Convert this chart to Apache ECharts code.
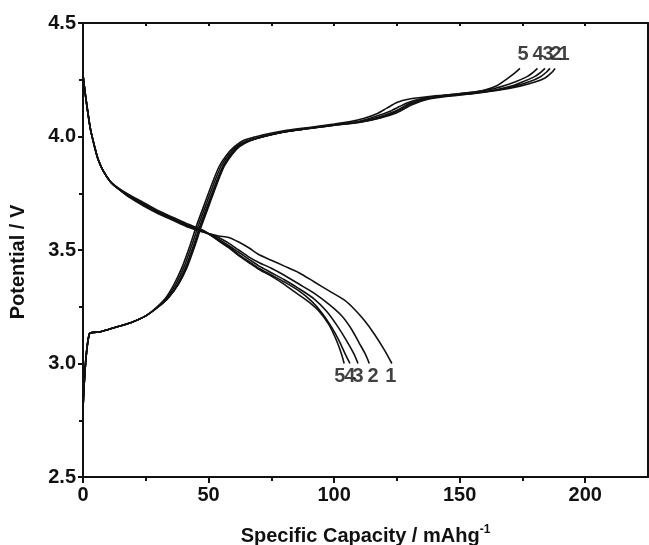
<!DOCTYPE html>
<html><head><meta charset="utf-8">
<script src="https://cdn.jsdelivr.net/npm/echarts@6/dist/echarts.min.js"></script>
<style>html,body{margin:0;padding:0;background:#fff}#c{width:649px;height:545px}</style>
</head><body><div id="c"></div>
<script>
// ---- data ----
const xTickLabels = [0, 50, 100, 150, 200];
const xMinorTicks = [25, 75, 125, 175];
const yTickLabels = [2.5, 3.0, 3.5, 4.0, 4.5];

// charge curves (capacity, potential)
const charge1X = [0, 2.5, 7, 13, 19, 25, 30, 34, 38, 41.3, 44.3, 47.3, 50.3, 53.3, 56.3, 59.3, 62.3, 66.3, 72, 80, 90, 100, 110, 118, 125, 131, 137, 146, 156, 166, 174, 180, 184, 186.5, 188];
const charge1Y = [2.80, 3.13, 3.14, 3.16, 3.18, 3.21, 3.25, 3.29, 3.35, 3.42, 3.51, 3.61, 3.70, 3.79, 3.87, 3.92, 3.955, 3.98, 4.00, 4.02, 4.035, 4.05, 4.062, 4.08, 4.105, 4.14, 4.163, 4.178, 4.19, 4.205, 4.222, 4.24, 4.258, 4.28, 4.30];
const charge2X = [0, 2.5, 7, 13, 19, 25, 30, 34, 38, 41, 44, 47, 50, 53, 56, 59, 62, 66, 72, 80, 90, 100, 110, 118, 124.5, 130.5, 136.5, 145, 155, 165, 172, 178, 182, 184.5, 186];
const charge2Y = [2.80, 3.13, 3.14, 3.16, 3.18, 3.21, 3.25, 3.29, 3.35, 3.42, 3.51, 3.61, 3.70, 3.79, 3.87, 3.92, 3.955, 3.98, 4.00, 4.02, 4.035, 4.05, 4.063, 4.082, 4.108, 4.143, 4.165, 4.18, 4.19, 4.205, 4.222, 4.242, 4.262, 4.283, 4.30];
const charge3X = [0, 2.5, 7, 13, 19, 25, 30, 34, 37.7, 40.7, 43.7, 46.7, 49.7, 52.7, 55.7, 58.7, 61.7, 65.7, 72, 80, 90, 100, 110, 117.5, 124, 130, 136, 144, 154, 164, 171, 176, 180, 182.5, 184];
const charge3Y = [2.80, 3.13, 3.14, 3.16, 3.18, 3.21, 3.25, 3.29, 3.35, 3.42, 3.51, 3.61, 3.70, 3.79, 3.87, 3.92, 3.955, 3.98, 4.00, 4.02, 4.035, 4.05, 4.065, 4.085, 4.11, 4.145, 4.166, 4.18, 4.19, 4.205, 4.223, 4.245, 4.265, 4.285, 4.30];
const charge4X = [0, 2.5, 7, 13, 19, 25, 30, 33.5, 37, 40, 43, 46, 49, 52, 55, 58, 61, 65, 71.5, 80, 90, 100, 110, 117, 123, 129, 135, 143, 153, 162, 168, 173, 177, 179.5, 181];
const charge4Y = [2.80, 3.13, 3.14, 3.16, 3.18, 3.21, 3.25, 3.29, 3.35, 3.42, 3.51, 3.61, 3.70, 3.79, 3.87, 3.92, 3.955, 3.98, 4.00, 4.02, 4.037, 4.052, 4.067, 4.09, 4.115, 4.148, 4.167, 4.18, 4.192, 4.207, 4.225, 4.245, 4.265, 4.285, 4.30];
const charge5X = [0, 2.5, 7, 13, 19, 25, 29.5, 33, 36.3, 39.3, 42.3, 45.3, 48.3, 51.3, 54.3, 57.3, 60.3, 64.3, 71, 80, 90, 100, 106, 112, 117, 121, 125, 130, 137, 145, 153, 160, 165, 169, 172, 174];
const charge5Y = [2.80, 3.13, 3.14, 3.16, 3.18, 3.21, 3.25, 3.29, 3.35, 3.42, 3.51, 3.61, 3.70, 3.79, 3.87, 3.92, 3.955, 3.985, 4.005, 4.025, 4.04, 4.055, 4.065, 4.08, 4.10, 4.125, 4.15, 4.165, 4.175, 4.183, 4.192, 4.205, 4.225, 4.255, 4.28, 4.30];

// discharge curves (capacity, potential)
const discharge1X = [0, 1, 2, 3, 4.5, 6, 8, 11, 14, 18, 24, 30, 36, 42, 48, 54, 58, 62, 66, 70, 75, 80, 86, 92, 98, 104, 108, 112, 116, 120, 123];
const discharge1Y = [4.27, 4.18, 4.10, 4.03, 3.96, 3.90, 3.85, 3.80, 3.77, 3.735, 3.695, 3.66, 3.63, 3.60, 3.578, 3.562, 3.555, 3.535, 3.51, 3.48, 3.455, 3.43, 3.40, 3.36, 3.32, 3.28, 3.24, 3.19, 3.13, 3.06, 3.00];
const discharge2X = [0, 1, 2, 3, 4.5, 6, 8, 11, 14, 18, 24, 30, 36, 42, 48, 54, 58, 62, 66, 70, 75, 80, 86, 92, 98, 103, 107, 110, 112.5, 114];
const discharge2Y = [4.27, 4.18, 4.10, 4.03, 3.96, 3.90, 3.85, 3.80, 3.77, 3.738, 3.70, 3.663, 3.633, 3.603, 3.58, 3.555, 3.53, 3.50, 3.47, 3.445, 3.42, 3.39, 3.35, 3.31, 3.26, 3.21, 3.15, 3.09, 3.04, 3.00];
const discharge3X = [0, 1, 2, 3, 4.5, 6, 8, 11, 14, 18, 24, 30, 36, 42, 48, 54, 58, 62, 66, 70, 75, 80, 86, 92, 97, 101, 105, 108, 109.5];
const discharge3Y = [4.27, 4.18, 4.10, 4.03, 3.96, 3.90, 3.85, 3.80, 3.77, 3.74, 3.703, 3.667, 3.637, 3.607, 3.582, 3.548, 3.52, 3.49, 3.46, 3.43, 3.40, 3.37, 3.33, 3.285, 3.23, 3.17, 3.10, 3.04, 3.00];
const discharge4X = [0, 1, 2, 3, 4.5, 6, 8, 11, 14, 18, 24, 30, 36, 42, 48, 54, 58, 62, 66, 70, 75, 80, 86, 91, 95, 99, 102, 104.5, 106.3];
const discharge4Y = [4.27, 4.18, 4.10, 4.03, 3.96, 3.90, 3.85, 3.80, 3.772, 3.743, 3.706, 3.67, 3.64, 3.61, 3.584, 3.543, 3.515, 3.48, 3.45, 3.42, 3.39, 3.36, 3.32, 3.275, 3.225, 3.16, 3.10, 3.04, 3.00];
const discharge5X = [0, 1, 2, 3, 4.5, 6, 8, 11, 14, 18, 24, 30, 36, 42, 48, 54, 58, 62, 66, 70, 75, 80, 85, 90, 94, 98, 101, 103, 104];
const discharge5Y = [4.27, 4.18, 4.10, 4.03, 3.96, 3.90, 3.85, 3.80, 3.774, 3.746, 3.71, 3.673, 3.643, 3.613, 3.586, 3.54, 3.51, 3.475, 3.445, 3.415, 3.385, 3.35, 3.31, 3.27, 3.23, 3.17, 3.10, 3.04, 3.00];

// cycle number labels (capacity, potential, text)
const topLabelX = [191.6, 188.4, 185.2, 181.2, 175.2];
const topLabelY = [4.36, 4.36, 4.36, 4.36, 4.36];
const bottomLabelX = [122.6, 115.5, 109.5, 106.3, 102.3];
const bottomLabelY = [2.945, 2.945, 2.945, 2.945, 2.945];
const cycleNames = ['1', '2', '3', '4', '5'];

// ---- build ----
const zip = (xs, ys) => xs.map((x, i) => [x, ys[i]]);
const chargeSets = [[charge1X, charge1Y], [charge2X, charge2Y], [charge3X, charge3Y], [charge4X, charge4Y], [charge5X, charge5Y]];
const dischargeSets = [[discharge1X, discharge1Y], [discharge2X, discharge2Y], [discharge3X, discharge3Y], [discharge4X, discharge4Y], [discharge5X, discharge5Y]];

const INK = '#111111';
const FONT = 'Liberation Sans, Arial, sans-serif';
const lineStyle = { color: INK, width: 1.6 };

const series = [];
chargeSets.forEach((s, i) => series.push({
  name: 'charge ' + cycleNames[i], type: 'line', data: zip(s[0], s[1]),
  showSymbol: false, symbol: 'none', smooth: 0.25, lineStyle, silent: true, z: 3
}));
dischargeSets.forEach((s, i) => series.push({
  name: 'discharge ' + cycleNames[i], type: 'line', data: zip(s[0], s[1]),
  showSymbol: false, symbol: 'none', smooth: 0.25, lineStyle, silent: true, z: 3
}));
const labelStyle = { show: true, position: 'inside', formatter: p => p.data[2], color: INK,
  fontFamily: FONT, fontWeight: 'bold', fontSize: 20 };
series.push({
  type: 'scatter', symbolSize: 0, silent: true, z: 5,
  data: topLabelX.map((x, i) => [x, topLabelY[i], cycleNames[i]]), label: labelStyle
});
series.push({
  type: 'scatter', symbolSize: 0, silent: true, z: 5,
  data: bottomLabelX.map((x, i) => [x, bottomLabelY[i], cycleNames[i]]), label: labelStyle
});

const axisLine = { show: true, onZero: false, lineStyle: { color: INK, width: 2 } };
const tickLabel = { color: INK, fontFamily: FONT, fontWeight: 'bold', fontSize: 20 };

const option = {
  animation: false,
  backgroundColor: '#fff',
  grid: { left: 83, right: 1, top: 23, bottom: 68, containLabel: false, outerBoundsMode: 'none' },
  graphic: [{
    type: 'text', x: 18, y: 262, rotation: Math.PI / 2,
    style: { text: 'Potential / V', fill: INK, font: 'bold 20px ' + FONT, align: 'center', verticalAlign: 'middle' }
  }],
  xAxis: [
    {
      type: 'value', min: 0, max: 225, interval: 50, position: 'bottom',
      axisLine, splitLine: { show: false },
      axisTick: { show: true, inside: false, length: 6, customValues: xTickLabels, lineStyle: { color: INK, width: 2 } },
      axisLabel: { ...tickLabel, margin: 8, customValues: xTickLabels, formatter: v => String(v) },
      name: '{a|Specific Capacity / mAhg}{b|-1}', nameLocation: 'middle', nameGap: 47,
      nameTextStyle: { rich: {
        a: { fontFamily: FONT, fontWeight: 'bold', fontSize: 20, color: INK },
        b: { fontFamily: FONT, fontWeight: 'bold', fontSize: 12, color: INK, padding: [0, 0, 13, 0] }
      } }
    },
    {
      type: 'value', min: 0, max: 225, position: 'bottom', gridIndex: 0,
      axisLine: { show: false }, splitLine: { show: false }, axisLabel: { show: false },
      axisTick: { show: true, inside: false, length: 4, customValues: xMinorTicks, lineStyle: { color: INK, width: 2 } }
    },
    {
      type: 'value', min: 0, max: 225, position: 'top', gridIndex: 0,
      axisLine, splitLine: { show: false }, axisLabel: { show: false },
      axisTick: { show: true, inside: true, length: 3, customValues: [25, 50, 75, 100, 125, 150, 175, 200], lineStyle: { color: INK, width: 2 } }
    }
  ],
  yAxis: [
    {
      type: 'value', min: 2.5, max: 4.5, interval: 0.5, position: 'left',
      axisLine, splitLine: { show: false },
      axisTick: { show: true, inside: false, length: 5, lineStyle: { color: INK, width: 2 } },
      minorTick: { show: true, splitNumber: 2, length: 4, lineStyle: { color: INK, width: 2 } },
      axisLabel: { ...tickLabel, margin: 7, formatter: v => v.toFixed(1) }
    },
    {
      type: 'value', min: 2.5, max: 4.5, interval: 0.5, position: 'right',
      axisLine, splitLine: { show: false }, axisLabel: { show: false },
      axisTick: { show: false }
    }
  ],
  series
};

const chart = echarts.init(document.getElementById('c'), null, { renderer: 'canvas' });
chart.setOption(option);
</script>
</body></html>
